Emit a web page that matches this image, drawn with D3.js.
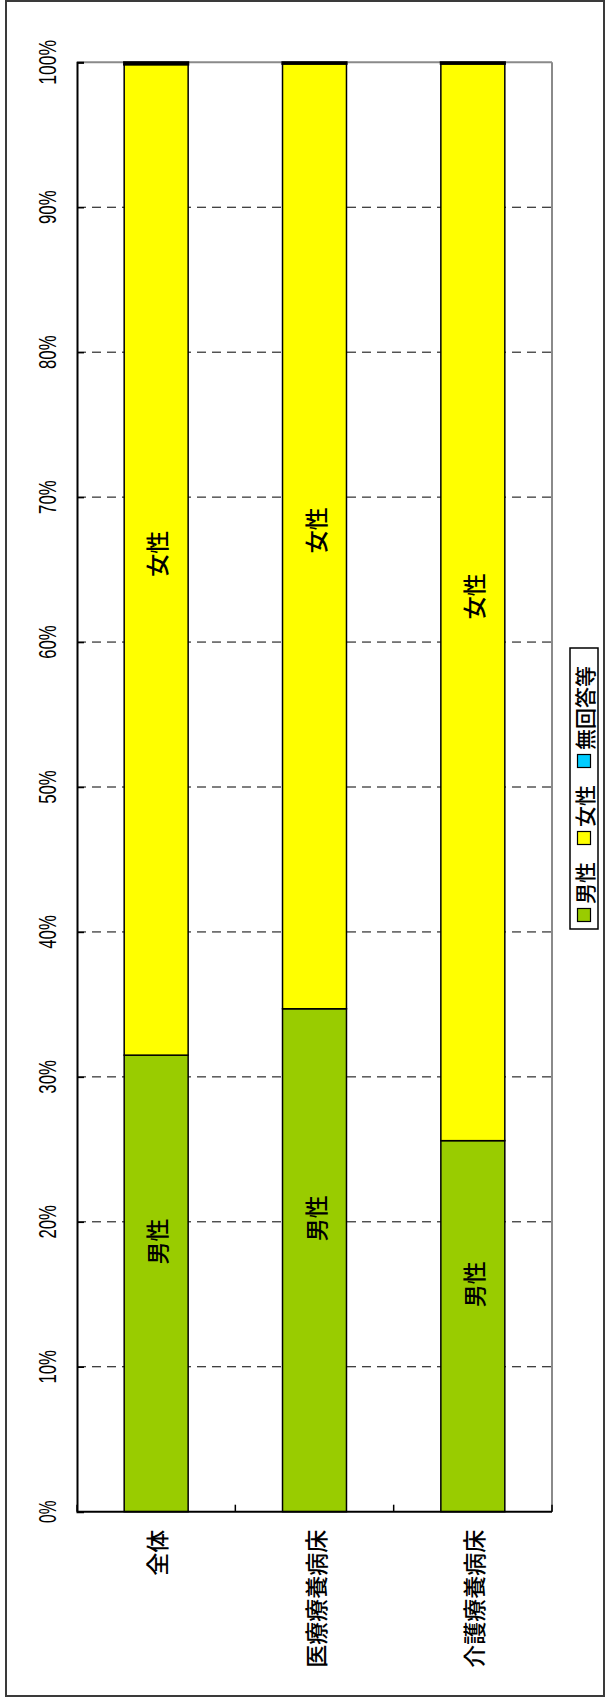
<!DOCTYPE html>
<html>
<head>
<meta charset="utf-8">
<script src="https://cdn.jsdelivr.net/npm/d3@7"></script>
<style>
html,body{margin:0;padding:0;background:#fff;}
svg{display:block;}
text{font-family:"Noto Sans CJK JP","Noto Sans",sans-serif;fill:#000;}
</style>
</head>
<body>
<svg id="chart" width="606" height="1699"></svg>
<script>
const categories = ["全体", "医療療養病床", "介護療養病床"];
const seriesNames = ["男性", "女性", "無回答等"];
const male = [31.5, 34.7, 25.6];
const female = [68.35, 65.2, 74.3];
const noAnswer = [0.15, 0.1, 0.1];
const tickValues = [0, 10, 20, 30, 40, 50, 60, 70, 80, 90, 100];
const colors = ["#99CC00", "#FFFF00", "#00CCFF"];

const svg = d3.select("#chart");

// outer frame
svg.append("rect").attr("x", 6).attr("y", 1).attr("width", 598).attr("height", 1695)
  .attr("fill", "#fff").attr("stroke", "#3a3a3a").attr("stroke-width", 2);

const plot = {left: 77, right: 552, top: 62.3, bottom: 1511.7};

const y = d3.scaleLinear().domain([0, 100]).range([plot.bottom, plot.top]);
const x = d3.scaleBand().domain(categories).range([plot.left, plot.right]).padding(0);
const barW = x.bandwidth() * 0.404;

// gridlines (dashed)
svg.append("g").selectAll("line").data(tickValues.filter(d => d > 0 && d < 100)).join("line")
  .attr("x1", plot.left).attr("x2", plot.right)
  .attr("y1", d => y(d)).attr("y2", d => y(d))
  .attr("stroke", "#000").attr("stroke-width", 1).attr("stroke-dasharray", "9,6");

// plot area border (top/right gray)
svg.append("line").attr("x1", plot.left).attr("x2", plot.right).attr("y1", plot.top).attr("y2", plot.top)
  .attr("stroke", "#8a8a8a").attr("stroke-width", 2);
svg.append("line").attr("x1", plot.right).attr("x2", plot.right).attr("y1", plot.top).attr("y2", plot.bottom)
  .attr("stroke", "#8a8a8a").attr("stroke-width", 2);

// stacked data
const rows = categories.map((c, i) => ({cat: c, "男性": male[i], "女性": female[i], "無回答等": noAnswer[i]}));
const stack = d3.stack().keys(seriesNames)(rows);

const gBars = svg.append("g");
stack.forEach((layer, li) => {
  gBars.append("g").selectAll("rect").data(layer).join("rect")
    .attr("x", d => x(d.data.cat) + (x.bandwidth() - barW) / 2)
    .attr("width", barW)
    .attr("y", d => y(d[1]))
    .attr("height", d => y(d[0]) - y(d[1]))
    .attr("fill", colors[li])
    .attr("stroke", "#000").attr("stroke-width", li === 2 ? 2.2 : 1.5);
});

// segment labels (male, female)
const labelShift = [-42, -6];
[0, 1].forEach(li => {
  svg.append("g").selectAll("text").data(stack[li]).join("text")
    .attr("transform", d => `translate(${x(d.data.cat) + x.bandwidth() / 2},${(y(d[0]) + y(d[1])) / 2 + labelShift[li]}) rotate(-90)`)
    .attr("text-anchor", "middle").attr("dominant-baseline", "central")
    .style("font-size", "23px").style("font-weight", "500")
    .text(seriesNames[li]);
});

// value axis (left)
const gy = svg.append("g").attr("transform", `translate(${plot.left},0)`)
  .call(d3.axisRight(y).tickValues(tickValues).tickSize(7).tickFormat(""));
gy.select(".domain").attr("stroke", "#000").attr("stroke-width", 2);
gy.selectAll(".tick line").attr("stroke", "#000").attr("stroke-width", 1.5);

// value labels
svg.append("g").selectAll("text").data(tickValues).join("text")
  .attr("transform", d => `translate(47,${y(d)}) rotate(-90)`)
  .attr("text-anchor", "middle").attr("dominant-baseline", "central")
  .attr("textLength", d => (d + "%").length * 11.2)
  .attr("lengthAdjust", "spacingAndGlyphs")
  .style("font-size", "24px").style("font-family", "'Liberation Sans', Arial, sans-serif")
  .text(d => d + "%");

// category axis (bottom)
const boundaries = categories.map(c => x(c)).concat([plot.right]);
svg.append("line").attr("x1", plot.left).attr("x2", plot.right).attr("y1", plot.bottom).attr("y2", plot.bottom)
  .attr("stroke", "#000").attr("stroke-width", 2);
svg.append("g").selectAll("line").data(boundaries).join("line")
  .attr("x1", d => d).attr("x2", d => d)
  .attr("y1", plot.bottom).attr("y2", plot.bottom - 7)
  .attr("stroke", "#000").attr("stroke-width", 1.5);

svg.append("g").selectAll("text").data(categories).join("text")
  .attr("transform", d => `translate(${x(d) + x.bandwidth() / 2},${plot.bottom + 18}) rotate(-90)`)
  .attr("text-anchor", "end").attr("dominant-baseline", "central")
  .style("font-size", "23px").style("font-weight", "500")
  .text(d => d);

// legend (rotated)
const legend = svg.append("g").attr("transform", "translate(584,788.5) rotate(-90)");
legend.append("rect").attr("x", -140.5).attr("y", -14).attr("width", 281).attr("height", 28)
  .attr("fill", "#fff").attr("stroke", "#000").attr("stroke-width", 1.5);
const step = 77;
seriesNames.forEach((s, i) => {
  const cx = -126.5 + i * step;
  legend.append("rect").attr("x", cx - 6.5).attr("y", -6.5).attr("width", 13).attr("height", 13)
    .attr("fill", colors[i]).attr("stroke", "#000").attr("stroke-width", 1.2);
  legend.append("text").attr("x", cx + 11).attr("y", 0)
    .attr("dominant-baseline", "central").style("font-size", "21px").style("font-weight", "500")
    .text(s);
});
</script>
</body>
</html>
